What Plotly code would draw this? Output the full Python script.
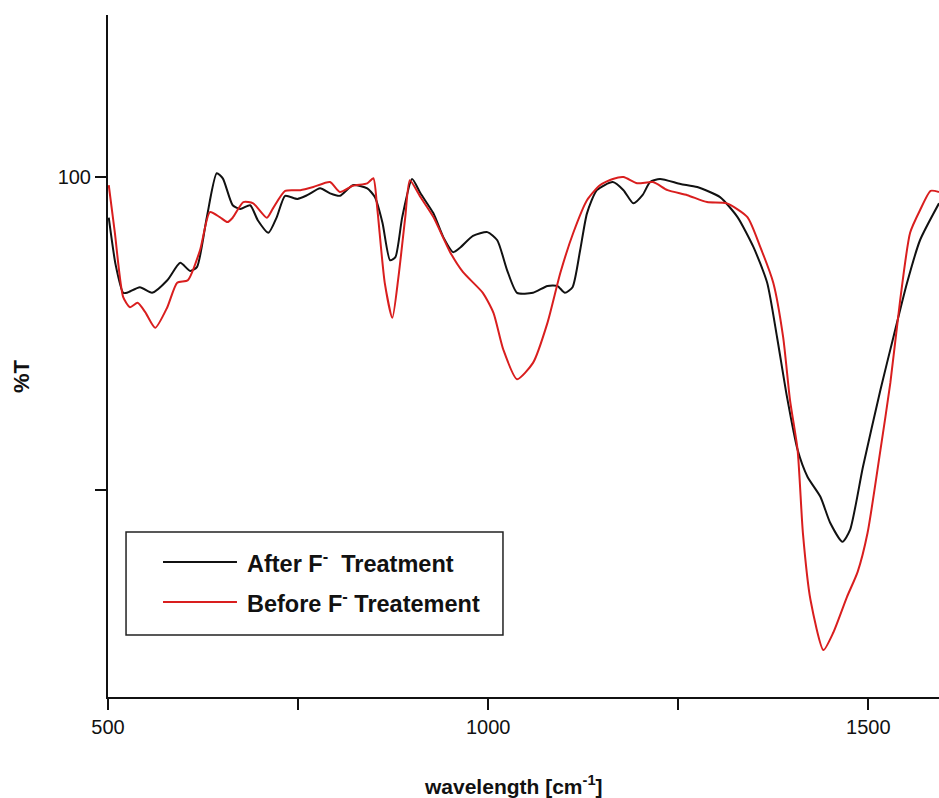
import plotly.graph_objects as go

# wavenumber (cm^-1) and %T
after_x = [501, 510, 520, 525, 542, 558, 578, 595, 608, 617, 630, 643, 651, 664, 674, 687, 697,
           711, 722, 733, 749, 762, 779, 792, 805, 822, 841, 851, 861, 871, 878, 887, 900, 911,
           928, 941, 954, 963, 980, 999, 1012, 1025, 1038, 1059, 1078, 1091, 1101, 1111, 1121,
           1130, 1143, 1164, 1178, 1191, 1203, 1213, 1226, 1253, 1275, 1305, 1328, 1349, 1367,
           1380, 1393, 1407, 1420, 1437, 1450, 1466, 1476, 1493, 1516, 1533, 1551, 1568, 1593]
after_y = [93.5, 86.0, 81.5, 81.5, 82.4, 81.5, 83.5, 86.3, 85.0, 85.6, 93.6, 100.6, 99.8, 95.5,
           94.9, 95.5, 93.1, 91.1, 93.6, 97.0, 96.5, 97.1, 98.2, 97.4, 97.0, 98.7, 98.2, 96.8,
           92.7, 86.7, 87.2, 93.6, 99.7, 97.4, 94.2, 90.4, 88.0, 88.7, 90.6, 91.2, 89.9, 85.1,
           81.5, 81.5, 82.6, 82.6, 81.5, 82.4, 88.3, 94.2, 97.9, 99.2, 97.9, 95.8, 97.1, 99.2,
           99.7, 98.9, 98.4, 96.8, 93.6, 88.8, 83.1, 74.4, 64.9, 56.4, 52.1, 48.9, 44.7, 41.7,
           43.6, 53.7, 66.0, 74.4, 83.1, 89.9, 95.8]

before_x = [501, 509, 520, 529, 539, 549, 562, 578, 591, 605, 621, 634, 647, 657, 664, 678, 691,
            709, 717, 733, 753, 770, 792, 805, 822, 841, 849, 854, 864, 874, 882, 891, 897, 911,
            928, 950, 967, 993, 1007, 1020, 1038, 1059, 1078, 1095, 1112, 1130, 1147, 1164, 1178,
            1196, 1217, 1236, 1262, 1288, 1314, 1341, 1358, 1375, 1388, 1397, 1407, 1414, 1424,
            1441, 1454, 1472, 1486, 1499, 1516, 1529, 1542, 1555, 1568, 1582, 1593]
before_y = [98.7, 91.1, 80.8, 79.2, 79.9, 78.4, 75.9, 79.2, 83.1, 83.5, 88.3, 94.4, 93.6, 92.8,
            93.5, 96.0, 95.8, 93.5, 95.0, 97.8, 97.9, 98.4, 99.2, 97.6, 98.6, 99.0, 99.8, 95.2,
            83.1, 77.5, 84.0, 93.6, 99.5, 96.8, 93.6, 88.0, 84.8, 81.5, 78.3, 72.4, 67.7, 70.3,
            76.7, 84.7, 91.1, 96.3, 98.7, 99.7, 100.0, 99.0, 99.2, 97.9, 97.1, 96.0, 95.8, 93.6,
            88.8, 83.1, 74.4, 64.4, 56.4, 43.1, 32.4, 24.4, 27.2, 32.9, 36.9, 43.1, 56.4, 67.1,
            80.4, 91.1, 94.7, 97.8, 97.6]

series_names = ["After F<sup>-</sup>  Treatment", "Before F<sup>-</sup> Treatement"]
series_colors = ["#111111", "#d91e1e"]

x_tickvals = [500, 750, 1000, 1250, 1500]
x_ticktext = ["500", "", "1000", "", "1500"]
y_tickvals = [50, 100]
y_ticktext = ["", "100"]
x_title = "wavelength [cm<sup>-1</sup>]"
y_title = "%T"

FONT = "Liberation Sans, Arial, sans-serif"

fig = go.Figure()
for xs, ys, name, col in [(after_x, after_y, series_names[0], series_colors[0]),
                          (before_x, before_y, series_names[1], series_colors[1])]:
    fig.add_trace(go.Scatter(x=xs, y=ys, mode="lines", name=name,
                             line=dict(color=col, width=2, shape="spline", smoothing=0.6),
                             showlegend=False))

fig.update_layout(
    width=939, height=798,
    margin=dict(l=108, r=0, t=15, b=101),
    paper_bgcolor="white", plot_bgcolor="white",
    font=dict(family=FONT, color="#111"),
)
fig.update_xaxes(range=[500, 1593], showgrid=False, zeroline=False,
                 showline=True, linecolor="#111", linewidth=2,
                 ticks="outside", ticklen=11, tickwidth=2, tickcolor="#111",
                 tickvals=x_tickvals, ticktext=x_ticktext,
                 tickfont=dict(size=20, family=FONT))
fig.update_yaxes(range=[16.9, 125.9], showgrid=False, zeroline=False,
                 showline=True, linecolor="#111", linewidth=2,
                 ticks="outside", ticklen=11, tickwidth=2, tickcolor="#111",
                 tickvals=y_tickvals, ticktext=y_ticktext,
                 tickfont=dict(size=20, family=FONT))

# axis titles placed where the reference has them
fig.add_annotation(xref="paper", yref="paper", x=(513 - 108) / 831, y=(697 - 785) / 682,
                   xanchor="center", yanchor="middle", showarrow=False,
                   text="<b>" + x_title + "</b>", font=dict(size=21, family=FONT, color="#111"))
fig.add_annotation(xref="paper", yref="paper", x=(21 - 108) / 831, y=(697 - 376) / 682,
                   xanchor="center", yanchor="middle", showarrow=False, textangle=-90,
                   text="<b>" + y_title + "</b>", font=dict(size=22, family=FONT, color="#111"))

# legend drawn by hand (box, sample lines, labels)
fig.add_shape(type="rect", xref="paper", yref="paper", x0=0.0217, x1=0.4753, y0=0.0909, y1=0.2419,
              line=dict(color="#222", width=1.5), fillcolor="white", layer="above")
rows = [0.198, 0.1393]
for i in range(2):
    fig.add_shape(type="line", xref="paper", yref="paper", x0=0.0662, x1=0.1552, y0=rows[i], y1=rows[i],
                  line=dict(color=series_colors[i], width=2), layer="above")
    fig.add_annotation(xref="paper", yref="paper", x=0.1649, y=rows[i], xanchor="left", yanchor="middle",
                       text="<b>" + series_names[i] + "</b>", showarrow=False,
                       font=dict(size=23.5, family=FONT, color="#111"))

fig.write_html("out.html")
